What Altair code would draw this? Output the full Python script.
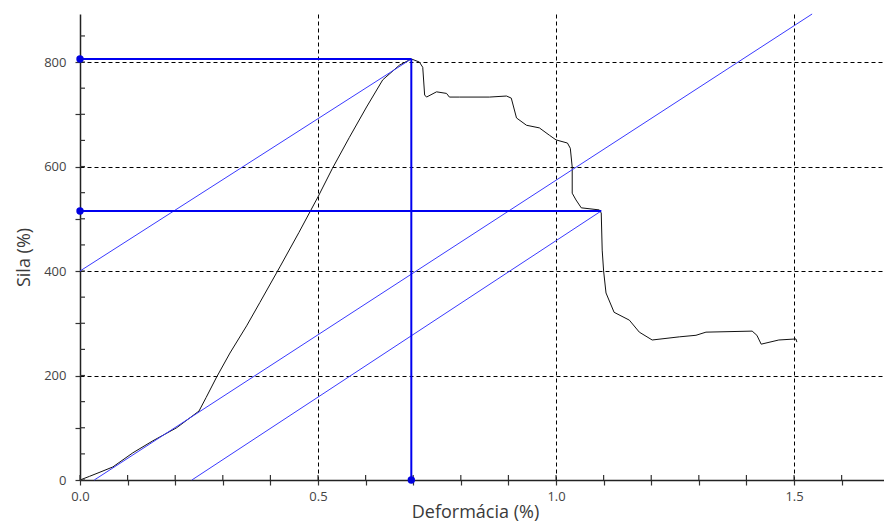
import altair as alt
import pandas as pd

# Black measured curve (Deformácia %, Sila %)
curve_x = [0, 0.02, 0.042, 0.069, 0.111, 0.153, 0.203, 0.25, 0.265, 0.287, 0.315, 0.35, 0.378,
           0.42, 0.46, 0.5, 0.53, 0.566, 0.602, 0.636, 0.671, 0.696, 0.713, 0.72, 0.724, 0.728,
           0.749, 0.77, 0.776, 0.797, 0.86, 0.896, 0.906, 0.917, 0.938, 0.965, 0.986, 1.0, 1.024,
           1.03, 1.034, 1.034, 1.042, 1.053, 1.091, 1.095, 1.097, 1.1, 1.105, 1.122, 1.154, 1.175,
           1.202, 1.259, 1.294, 1.315, 1.412, 1.422, 1.431, 1.468, 1.504, 1.506]
curve_y = [0, 7, 15, 25, 52, 75, 100, 132, 158, 197, 243, 295, 340,
           408, 474, 542, 596, 656, 714, 766, 794, 806, 800, 790, 737, 733,
           743, 740, 733, 733, 733, 735, 731, 693, 679, 674, 660, 651, 645,
           635, 599, 549, 536, 521, 517, 511, 440, 400, 358, 321, 306, 283,
           268, 274, 277, 283, 285, 277, 260, 268, 270, 264]

# Blue construction lines
seg_x1 = [0, 0.03, 0.235, 0, 0, 0.696]
seg_y1 = [400, 0, 0, 806, 515, 806]
seg_x2 = [0.696, 1.538, 1.095, 0.696, 1.095, 0.696]
seg_y2 = [806, 892, 515, 806, 515, 0]
seg_w = [1, 1, 1, 2, 2, 2]
seg_c = ["#3a3aff", "#3a3aff", "#3a3aff", "#0000f0", "#0000f0", "#0000f0"]

# Blue marker dots
dot_x = [0, 0, 0.696]
dot_y = [806, 515, 0]

x_ticks = [0.0, 0.1, 0.2, 0.3, 0.4, 0.5, 0.6, 0.7, 0.8, 0.9, 1.0, 1.1, 1.2, 1.3, 1.4, 1.5, 1.6]
y_ticks = [0, 50, 100, 150, 200, 250, 300, 350, 400, 450, 500, 550, 600, 650, 700, 750, 800, 850]

X_MAX = 1.689
Y_MAX = 892
W, H = 804, 466

curve = pd.DataFrame({"x": curve_x, "y": curve_y, "i": list(range(len(curve_x)))})
segs = pd.DataFrame({"x": seg_x1, "y": seg_y1, "x2": seg_x2, "y2": seg_y2, "w": seg_w, "c": seg_c})
dots = pd.DataFrame({"x": dot_x, "y": dot_y})
xt = pd.DataFrame({"v": x_ticks})
yt = pd.DataFrame({"v": y_ticks})

xmaj = "abs(datum.value*2 - round(datum.value*2)) < 0.001"
xaxis = alt.Axis(
    values=x_ticks,
    labelExpr=f"{xmaj} ? format(datum.value, '.1f') : ''",
    title="Deformácia (%)",
    grid=True,
    gridOpacity={"condition": {"test": f"{xmaj} && datum.value > 0", "value": 1}, "value": 0},
    labelPadding=5,
    labelFlush=False,
    titlePadding=0,
    titleX=395,
)
yaxis = alt.Axis(
    values=y_ticks,
    labelExpr="datum.value % 200 == 0 ? datum.label : ''",
    title="Sila (%)",
    grid=True,
    gridOpacity={"condition": {"test": "datum.value % 200 == 0 && datum.value > 0", "value": 1}, "value": 0},
    labelPadding=9,
    labelFlush=False,
    titlePadding=10,
    titleY=243,
)

xs = alt.Scale(domain=[0, X_MAX], nice=False, zero=False)
ys = alt.Scale(domain=[0, Y_MAX], nice=False, zero=False)

base_line = alt.Chart(curve).mark_line(color="#111111", strokeWidth=1, clip=True).encode(
    x=alt.X("x:Q", scale=xs, axis=xaxis),
    y=alt.Y("y:Q", scale=ys, axis=yaxis),
    order="i:Q",
)

# inner halves of the axis ticks (ticks cross the axis line)
xt_layer = alt.Chart(xt).mark_rule(color="#333333", strokeWidth=1.2).encode(
    x="v:Q", y=alt.value(H), y2=alt.value(H - 5)
)
yt_layer = alt.Chart(yt).mark_rule(color="#333333", strokeWidth=1.2).encode(
    y="v:Q", x=alt.value(0), x2=alt.value(5)
)

seg_layer = alt.Chart(segs).mark_rule().encode(
    x="x:Q", y="y:Q", x2="x2:Q", y2="y2:Q",
    strokeWidth=alt.StrokeWidth("w:Q", scale=None),
    color=alt.Color("c:N", scale=None),
)

dot_layer = alt.Chart(dots).mark_circle(color="#0000e0", opacity=1, size=55).encode(
    x="x:Q", y="y:Q"
)

chart = alt.layer(base_line, xt_layer, yt_layer, seg_layer, dot_layer).properties(
    width=W, height=H,
    autosize=alt.AutoSizeParams(type="none"),
    padding={"left": 72, "top": 6, "right": 0, "bottom": 42},
).configure_view(stroke=None).configure_axis(
    domainColor="#222222", domainWidth=1.5,
    tickColor="#333333", tickWidth=1.2, tickSize=5,
    gridColor="#000000", gridDash=[4, 3], gridWidth=1,
    labelFont="Open Sans", labelFontSize=13, labelColor="#444444",
    titleFont="Open Sans", titleFontSize=18, titleFontWeight=500, titleColor="#3a3a3a",
)

chart.save("out.html", embed_options={"renderer": "svg", "actions": False})
